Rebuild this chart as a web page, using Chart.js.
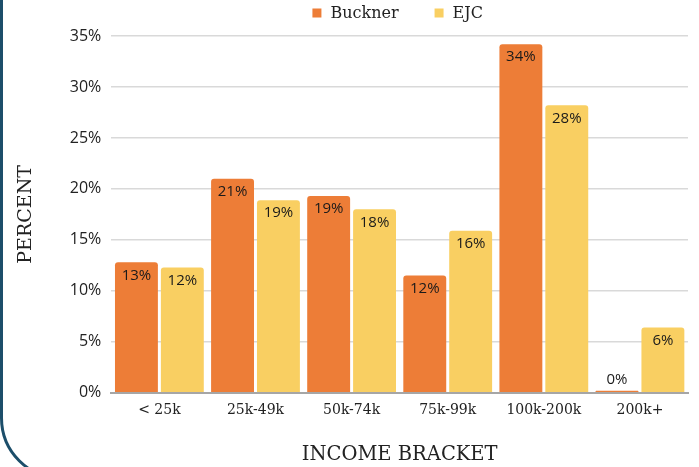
<!DOCTYPE html>
<html>
<head>
<meta charset="utf-8">
<script src="https://cdn.jsdelivr.net/npm/chart.js@4.4.1/dist/chart.umd.min.js"></script>
<style>
  html, body { margin: 0; padding: 0; background: #fff; }
  #wrap { position: relative; width: 699px; height: 467px; overflow: hidden; }
  #frame { position: absolute; left: 0; top: -60px; width: 900px; height: 540px;
           border: 3px solid #1c4e6a; border-radius: 62px; box-sizing: border-box; pointer-events: none; }
  canvas { position: absolute; left: 0; top: 0; }
</style>
</head>
<body>
<div id="wrap">
  <canvas id="c" width="699" height="467"></canvas>
  <div id="frame"></div>
</div>
<script>
const categories = ['< 25k', '25k-49k', '50k-74k', '75k-99k', '100k-200k', '200k+'];
const buckner = [12.8, 21.0, 19.3, 11.5, 34.2, 0.2];
const ejc = [12.3, 18.9, 18.0, 15.9, 28.2, 6.4];
const yTicks = [0, 5, 10, 15, 20, 25, 30, 35];

const SERIF = '"DejaVu Serif", "Liberation Serif", serif';
const SANS = '"Open Sans", "Noto Sans", sans-serif';

const labelPlugin = {
  id: 'barLabels',
  afterDatasetsDraw(chart) {
    const ctx = chart.ctx;
    ctx.save();
    ctx.font = '15px ' + SANS;
    ctx.fillStyle = '#1a1a1a';
    ctx.textAlign = 'center';
    ctx.textBaseline = 'middle';
    chart.data.datasets.forEach((ds, di) => {
      const meta = chart.getDatasetMeta(di);
      meta.data.forEach((bar, i) => {
        const v = ds.data[i];
        const txt = Math.round(v) + '%';
        const h = bar.base - bar.y;
        const y = h < 26 ? bar.y - 11 : bar.y + 13;
        ctx.fillText(txt, bar.x, y);
      });
    });
    ctx.restore();
  }
};

const legendPlugin = {
  id: 'customLegend',
  afterDraw(chart) {
    const ctx = chart.ctx;
    const box = 9, gapText = 9, gapItem = 36;
    ctx.save();
    ctx.font = '16px ' + SERIF;
    ctx.textBaseline = 'middle';
    ctx.textAlign = 'left';
    const items = chart.data.datasets.map(ds => ({ text: ds.label, color: ds.backgroundColor, w: ctx.measureText(ds.label).width }));
    let total = 0;
    items.forEach((it, i) => { total += box + gapText + it.w + (i ? gapItem : 0); });
    const cx = (chart.chartArea.left + chart.chartArea.right) / 2 - 2;
    let x = cx - total / 2;
    const y = 13;
    items.forEach(it => {
      ctx.fillStyle = it.color;
      ctx.fillRect(x, y - box / 2, box, box);
      x += box + gapText;
      ctx.fillStyle = '#222';
      ctx.fillText(it.text, x, y + 1);
      x += it.w + gapItem;
    });
    ctx.restore();
  }
};

new Chart(document.getElementById('c'), {
  type: 'bar',
  data: {
    labels: categories,
    datasets: [
      { label: 'Buckner', data: buckner, backgroundColor: '#ED7D37',
        borderRadius: { topLeft: 3, topRight: 3 }, borderSkipped: 'bottom',
        categoryPercentage: 0.955, barPercentage: 0.935 },
      { label: 'EJC', data: ejc, backgroundColor: '#F9CF62',
        borderRadius: { topLeft: 3, topRight: 3 }, borderSkipped: 'bottom',
        categoryPercentage: 0.955, barPercentage: 0.935 }
    ]
  },
  options: {
    responsive: false,
    animation: false,
    devicePixelRatio: 1,
    layout: { padding: { left: 15, right: 11, top: 36, bottom: 0 } },
    plugins: {
      legend: { display: false },
      tooltip: { enabled: false }
    },
    scales: {
      x: {
        grid: { display: false },
        border: { display: true, color: '#a6a6a6', width: 2 },
        ticks: { color: '#222', font: { family: SERIF, size: 14 }, padding: 1 },
        title: { display: true, text: 'INCOME BRACKET', color: '#222',
                 font: { family: SERIF, size: 19.5 }, padding: { top: 24, bottom: 0 } }
      },
      y: {
        min: 0, max: 35,
        afterBuildTicks(axis) { axis.ticks = yTicks.map(v => ({ value: v })); },
        grid: { color: '#d9d9d9', lineWidth: 1.5, drawTicks: false },
        border: { display: false },
        ticks: { color: '#222', font: { family: SANS, size: 16 }, padding: 10,
                 callback: v => v + '%' },
        title: { display: true, text: 'PERCENT', color: '#222',
                 font: { family: SERIF, size: 19 }, padding: { top: 0, bottom: 22 } }
      }
    }
  },
  plugins: [labelPlugin, legendPlugin]
});
</script>
</body>
</html>
